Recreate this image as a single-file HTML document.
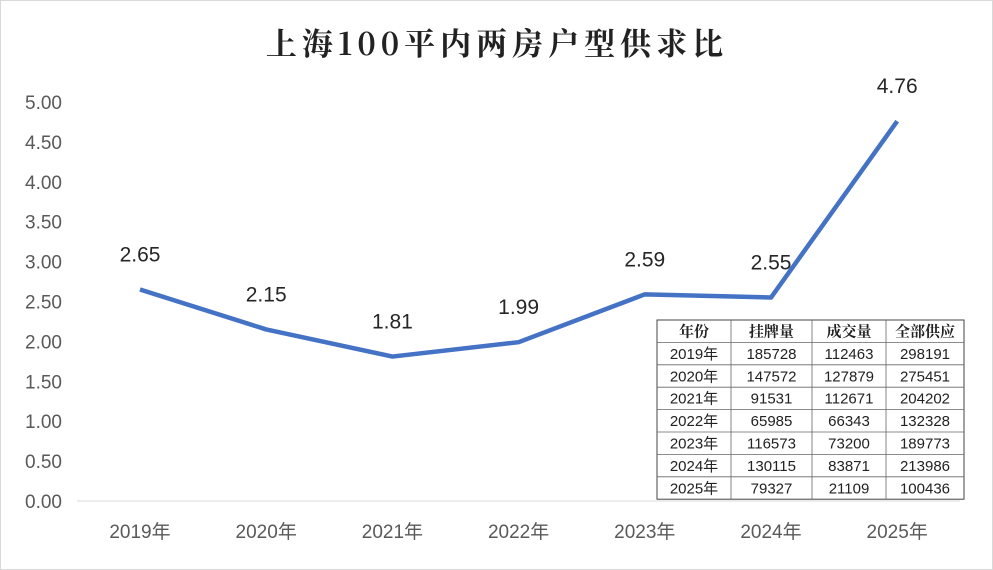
<!DOCTYPE html>
<html><head><meta charset="utf-8"><style>
body{margin:0;background:#fff;}
svg{display:block;font-family:"Liberation Sans","Noto Sans CJK SC",sans-serif;}
</style></head><body>
<svg id="c" width="993" height="570">
<rect x="0.5" y="0.5" width="992" height="569" fill="#fff" stroke="#d9d9d9"/>
<text x="497" y="55" text-anchor="middle" font-size="31" font-weight="bold" letter-spacing="5" fill="#222" style="font-family:'Noto Serif CJK SC',serif">上海100平内两房户型供求比</text>
<g id="axes"></g><g id="series"></g><g id="tbl"></g>
</svg>
<script>
const categories=["2019年","2020年","2021年","2022年","2023年","2024年","2025年"];
const ratios=[2.65,2.15,1.81,1.99,2.59,2.55,4.76];
const yTicks=[0,0.5,1,1.5,2,2.5,3,3.5,4,4.5,5];
const tableHeader=["年份","挂牌量","成交量","全部供应"];
const listings=[185728,147572,91531,65985,116573,130115,79327];
const deals=[112463,127879,112671,66343,73200,83871,21109];
const supply=[298191,275451,204202,132328,189773,213986,100436];
const NS="http://www.w3.org/2000/svg";
const y=v=>501-v*79.8;
const x=i=>140+i*126.2;
function mk(t,a,p){const e=document.createElementNS(NS,t);for(const k in a)e.setAttribute(k,a[k]);p.appendChild(e);return e;}
const ax=document.getElementById('axes');
const bl=mk('line',{x1:77,x2:960,y1:501,y2:501,stroke:'#d9d9d9','stroke-width':1},ax);


yTicks.forEach(v=>{const t=mk('text',{x:62,y:y(v)+7,'text-anchor':'end','font-size':19,fill:'#595959'},ax);t.textContent=v.toFixed(2);

});
categories.forEach((c,i)=>{const t=mk('text',{x:x(i),y:538,'text-anchor':'middle','font-size':19,fill:'#595959'},ax);t.textContent=c;

});
const s=document.getElementById('series');
const ln=mk('polyline',{points:ratios.map((v,i)=>x(i)+','+y(v)).join(' '),fill:'none',stroke:'#4472c4','stroke-width':4.5,'stroke-linejoin':'round'},s);


ratios.forEach((v,i)=>{const t=mk('text',{x:x(i),y:y(v)-28,'text-anchor':'middle','font-size':21,fill:'#262626'},s);t.textContent=v.toFixed(2);

});
const tb=document.getElementById('tbl');
const cx=[657,731,812,886,964],ty=320,rh=22.4;
const bg=mk('rect',{x:657,y:ty,width:307,height:rh*8,fill:'#fff',stroke:'#444','stroke-width':1},tb);


for(let r=1;r<8;r++)mk('line',{x1:657,x2:964,y1:ty+r*rh,y2:ty+r*rh,stroke:'#666','stroke-width':0.8},tb);
for(let c=1;c<4;c++)mk('line',{x1:cx[c],x2:cx[c],y1:ty,y2:ty+8*rh,stroke:'#666','stroke-width':0.8},tb);
const rows=[tableHeader].concat(categories.map((c,i)=>[c,listings[i],deals[i],supply[i]]));
rows.forEach((row,r)=>row.forEach((v,c)=>{const t=mk('text',{x:(cx[c]+cx[c+1])/2,y:ty+r*rh+16.5,'text-anchor':'middle','font-size':15,fill:'#222','font-weight':r==0?'bold':'normal'},tb);t.textContent=v;
if(r==0)t.style.fontFamily="'Noto Serif CJK SC',serif";

}));
</script>
</body></html>
